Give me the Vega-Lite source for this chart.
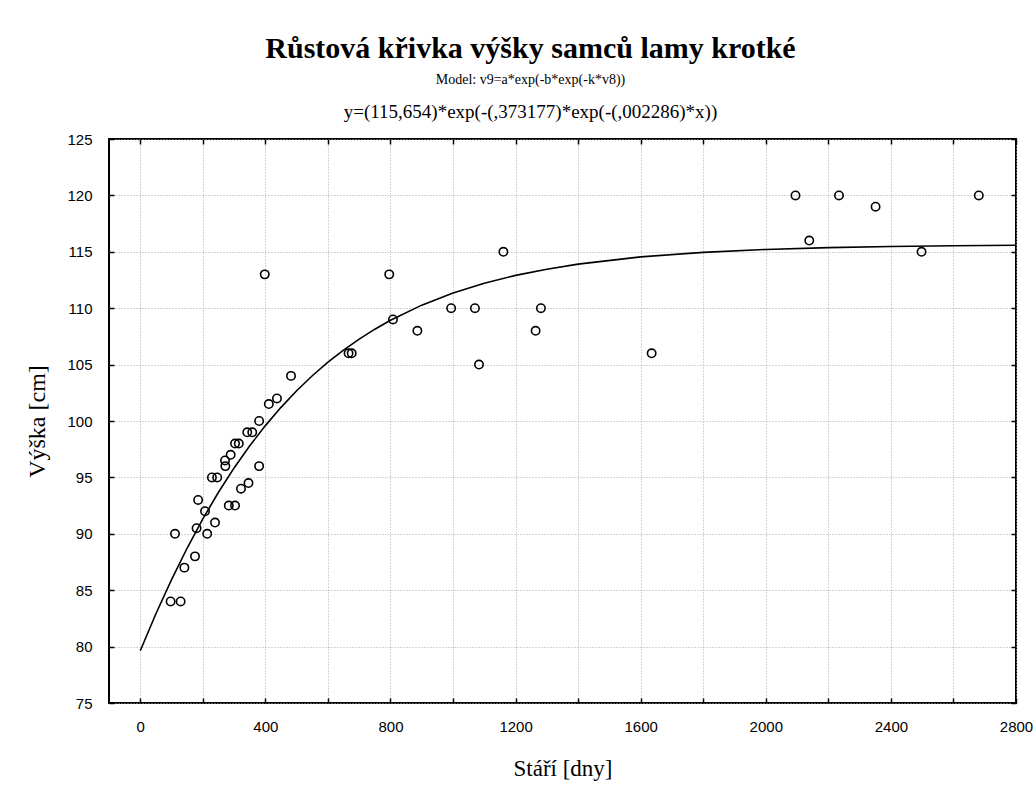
{
  "$schema": "https://vega.github.io/schema/vega-lite/v6.json",
  "width": 907,
  "height": 564,
  "autosize": "none",
  "padding": {"left": 109, "top": 139, "right": 20, "bottom": 84},
  "background": "white",
  "title": {
    "text": "Růstová křivka výšky samců lamy krotké",
    "subtitle": "Model: v9=a*exp(-b*exp(-k*v8))",
    "anchor": "middle",
    "frame": "group",
    "dx": -32,
    "font": "Liberation Serif",
    "fontSize": 30,
    "fontWeight": "bold",
    "color": "black",
    "subtitleFont": "Liberation Serif",
    "subtitleFontSize": 14,
    "subtitleColor": "black",
    "subtitlePadding": 9,
    "offset": 15
  },
  "datasets": {
    "obs": [
      {"age": 97, "height": 84}, {"age": 129, "height": 84}, {"age": 111, "height": 90},
      {"age": 141, "height": 87}, {"age": 175, "height": 88}, {"age": 180, "height": 90.5},
      {"age": 214, "height": 90}, {"age": 185, "height": 93}, {"age": 207, "height": 92},
      {"age": 239, "height": 91}, {"age": 229, "height": 95}, {"age": 246, "height": 95},
      {"age": 271, "height": 96.5}, {"age": 272, "height": 96}, {"age": 289, "height": 97},
      {"age": 283, "height": 92.5}, {"age": 303, "height": 92.5}, {"age": 303, "height": 98},
      {"age": 315, "height": 98}, {"age": 322, "height": 94}, {"age": 346, "height": 94.5},
      {"age": 342, "height": 99}, {"age": 358, "height": 99}, {"age": 380, "height": 100},
      {"age": 380, "height": 96}, {"age": 411, "height": 101.5}, {"age": 437, "height": 102},
      {"age": 482, "height": 104}, {"age": 398, "height": 113}, {"age": 796, "height": 113},
      {"age": 666, "height": 106}, {"age": 676, "height": 106}, {"age": 808, "height": 109},
      {"age": 886, "height": 108}, {"age": 994, "height": 110}, {"age": 1070, "height": 110},
      {"age": 1083, "height": 105}, {"age": 1161, "height": 115}, {"age": 1281, "height": 110},
      {"age": 1264, "height": 108}, {"age": 1635, "height": 106}, {"age": 2095, "height": 120},
      {"age": 2234, "height": 120}, {"age": 2351, "height": 119}, {"age": 2681, "height": 120},
      {"age": 2139, "height": 116}, {"age": 2498, "height": 115}
    ],
    "fit": [
      {"age": 0, "height": 79.63}, {"age": 50, "height": 82.91}, {"age": 100, "height": 85.94},
      {"age": 150, "height": 88.74}, {"age": 200, "height": 91.32}, {"age": 250, "height": 93.68},
      {"age": 300, "height": 95.84}, {"age": 350, "height": 97.8}, {"age": 400, "height": 99.59},
      {"age": 450, "height": 101.21}, {"age": 500, "height": 102.68}, {"age": 550, "height": 104.01},
      {"age": 600, "height": 105.21}, {"age": 650, "height": 106.29}, {"age": 700, "height": 107.26},
      {"age": 750, "height": 108.14}, {"age": 800, "height": 108.93}, {"age": 900, "height": 110.27},
      {"age": 1000, "height": 111.35}, {"age": 1100, "height": 112.22}, {"age": 1200, "height": 112.91},
      {"age": 1300, "height": 113.46}, {"age": 1400, "height": 113.91}, {"age": 1600, "height": 114.55},
      {"age": 1800, "height": 114.95}, {"age": 2000, "height": 115.21}, {"age": 2200, "height": 115.37},
      {"age": 2400, "height": 115.475}, {"age": 2600, "height": 115.54}, {"age": 2800, "height": 115.58}
    ]
  },
  "layer": [
    {
      "data": {"name": "obs"},
      "mark": {"type": "point", "shape": "circle", "filled": false, "stroke": "black", "strokeWidth": 1.6, "size": 70, "opacity": 1},
      "encoding": {
        "x": {
          "field": "age", "type": "quantitative",
          "scale": {"domain": [-100, 2800], "nice": false, "zero": false},
          "axis": {
            "orient": "bottom",
            "values": [0, 200, 400, 600, 800, 1000, 1200, 1400, 1600, 1800, 2000, 2200, 2400, 2600, 2800],
            "format": "d",
            "labelExpr": "datum.value % 400 === 0 ? datum.label : ''",
            "labelOverlap": false, "labelFlush": false,
            "tickSize": -5, "tickColor": "black", "tickWidth": 1.5,
            "domain": false,
            "grid": true, "gridColor": "#a8a8a8", "gridDash": [1, 2], "gridWidth": 1,
            "labelFont": "Liberation Sans", "labelFontSize": 15, "labelColor": "black", "labelPadding": 21,
            "title": "Stáří [dny]", "titleFont": "Liberation Serif", "titleFontSize": 23,
            "titleFontWeight": "normal", "titleColor": "black", "titlePadding": 23
          }
        },
        "y": {
          "field": "height", "type": "quantitative",
          "scale": {"domain": [75, 125], "nice": false, "zero": false},
          "axis": {
            "orient": "left",
            "values": [75, 80, 85, 90, 95, 100, 105, 110, 115, 120, 125],
            "labelOverlap": false, "labelFlush": false,
            "tickSize": -5, "tickColor": "black", "tickWidth": 1.5,
            "domain": false,
            "grid": true, "gridColor": "#a8a8a8", "gridDash": [1, 2], "gridWidth": 1,
            "labelFont": "Liberation Sans", "labelFontSize": 15, "labelColor": "black", "labelPadding": 22,
            "title": "Výška [cm]", "titleFont": "Liberation Serif", "titleFontSize": 24,
            "titleFontWeight": "normal", "titleColor": "black", "titlePadding": 17
          }
        }
      }
    },
    {
      "data": {"name": "fit"},
      "mark": {"type": "line", "color": "black", "strokeWidth": 1.6},
      "encoding": {
        "x": {
          "field": "age", "type": "quantitative",
          "axis": {
            "orient": "top",
            "values": [0, 200, 400, 600, 800, 1000, 1200, 1400, 1600, 1800, 2000, 2200, 2400, 2600, 2800],
            "labels": false, "grid": false, "domain": false,
            "title": "y=(115,654)*exp(-(,373177)*exp(-(,002286)*x))",
            "titleFont": "Liberation Serif", "titleFontSize": 19, "titleFontWeight": "normal",
            "titleColor": "black", "titlePadding": 17, "titleX": 421,
            "tickSize": -5, "tickColor": "black", "tickWidth": 1.5
          }
        },
        "y": {
          "field": "height", "type": "quantitative",
          "axis": {
            "orient": "right",
            "values": [75, 80, 85, 90, 95, 100, 105, 110, 115, 120, 125],
            "labels": false, "grid": false, "domain": false, "title": null,
            "tickSize": -5, "tickColor": "black", "tickWidth": 1.5
          }
        }
      }
    }
  ],
  "resolve": {"axis": {"x": "independent", "y": "independent"}},
  "config": {"view": {"stroke": "black", "strokeWidth": 2}}
}
